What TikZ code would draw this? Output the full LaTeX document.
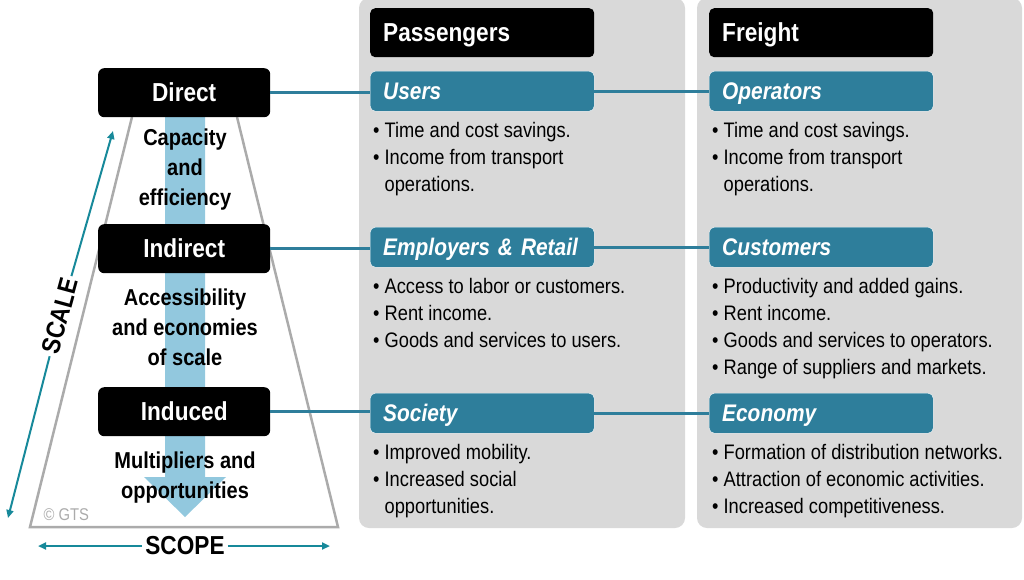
\documentclass[tikz,border=0pt]{standalone}
\usepackage{fontspec}
\setmainfont[FakeStretch=0.87]{Liberation Sans}
\usetikzlibrary{positioning,arrows.meta}

\definecolor{panelgray}{HTML}{D9D9D9}
\definecolor{boxteal}{HTML}{2E7E9B}
\definecolor{arrowteal}{HTML}{17899A}
\definecolor{barblue}{HTML}{92C8DE}
\definecolor{edgegray}{HTML}{ABABAB}

\newcommand{\bl}{\textbullet\ }
\newcommand{\cn}{\phantom{\textbullet\ }}

\tikzset{
  panel/.style={fill=panelgray, rounded corners=10pt},
  headbox/.style={fill=black, text=white, rounded corners=5pt, anchor=north west,
    minimum height=49pt, inner xsep=13pt, text width=198pt, align=left,
    text height=18.5pt, text depth=0pt,
    font=\bfseries\fontsize{26}{30}\selectfont},
  groupbox/.style={fill=boxteal, text=white, draw=white, thin, rounded corners=5pt, anchor=north west,
    minimum height=40pt, inner xsep=13pt, text width=198pt, align=left,
    text height=17pt, text depth=0pt,
    font=\bfseries\itshape\fontsize{24}{28}\selectfont},
  levelbox/.style={fill=black, text=white, rounded corners=6pt, anchor=north west,
    minimum width=172pt, minimum height=49pt, text height=18.5pt, text depth=0pt,
    font=\bfseries\fontsize{26}{30}\selectfont},
  itemlist/.style={anchor=north west, inner sep=0pt, align=left,
    font=\fontsize{21}{27}\selectfont},
  flowtext/.style={align=center, inner sep=0pt,
    font=\bfseries\fontsize{23}{30}\selectfont},
  measuretext/.style={inner sep=3pt, font=\bfseries\fontsize{26}{30}\selectfont},
  link/.style={boxteal, line width=3pt},
  measure/.style={arrowteal, line width=2pt, -{Triangle[length=8pt,width=7pt]}},
}

\begin{document}
\begin{tikzpicture}[x=1pt, y=-1pt]
\useasboundingbox (0,0) rectangle (1024,579);

% grey panels
\fill[panel] (359,-2) rectangle (685,528);
\fill[panel] (697,-2) rectangle (1022,528);

% trapezoid and flow bar
\draw[edgegray, line width=2.5pt, line join=miter] (132,117) -- (30,527) -- (338,527) -- (237,117);
\fill[barblue] (165,117) -- (205,117) -- (205,477) -- (226,477) -- (185,517)
  -- (144,477) -- (165,477) -- cycle;

\node[flowtext] (capacity) at (185,170) {Capacity\\and\\efficiency};
\node[flowtext] (access) at (185,327) {Accessibility\\and economies\\of scale};
\node[flowtext] (multi) at (185,478) {Multipliers and\\opportunities};

% levels
\node[levelbox] (direct) at (98,68) {Direct};
\node[levelbox] (indirect) at (98,224) {Indirect};
\node[levelbox] (induced) at (98,387) {Induced};

% headers
\node[headbox] (passengers) at (370,8) {Passengers};
\node[headbox] (freight) at (709,8) {Freight};

% groups
\node[groupbox] (users) at (370,71) {Users};
\node[groupbox] (employers) at (370,227) {Employers \& Retail};
\node[groupbox] (society) at (370,393) {Society};
\node[groupbox] (operators) at (709,71) {Operators};
\node[groupbox] (customers) at (709,227) {Customers};
\node[groupbox] (economy) at (709,393) {Economy};

% links
\draw[link] (direct.east) -- (direct.east -| users.west);
\draw[link] (indirect.east) -- (indirect.east -| employers.west);
\draw[link] (induced.east) -- (induced.east -| society.west);
\draw[link] (users) -- (operators);
\draw[link] (employers) -- (customers);
\draw[link] (society) -- (economy);

% benefits
\node[itemlist] (userlist) at (373,122) {\bl Time and cost savings.\\\bl Income from transport\\\cn operations.};
\node[itemlist] (emplist) at (373,278) {\bl Access to labor or customers.\\\bl Rent income.\\\bl Goods and services to users.};
\node[itemlist] (soclist) at (373,444) {\bl Improved mobility.\\\bl Increased social\\\cn opportunities.};
\node[itemlist] (oplist) at (712,122) {\bl Time and cost savings.\\\bl Income from transport\\\cn operations.};
\node[itemlist] (custlist) at (712,278) {\bl Productivity and added gains.\\\bl Rent income.\\\bl Goods and services to operators.\\\bl Range of suppliers and markets.};
\node[itemlist] (ecolist) at (712,444) {\bl Formation of distribution networks.\\\bl Attraction of economic activities.\\\bl Increased competitiveness.};

% scale and scope
\coordinate (scale-lo) at (8,518);
\coordinate (scale-hi) at (113,131);
\node[measuretext, rotate=74.8] (scalelbl) at (60,316) {SCALE};
\draw[measure] (scalelbl) -- (scale-hi);
\draw[measure] (scalelbl) -- (scale-lo);

\coordinate (scope-l) at (38,546);
\coordinate (scope-r) at (330,546);
\node[measuretext] (scopelbl) at (185,546) {SCOPE};
\draw[measure] (scopelbl) -- (scope-l);
\draw[measure] (scopelbl) -- (scope-r);

\node[anchor=west, text=edgegray, font=\fontsize{17}{20}\selectfont] (credit) at (40,515) {\textcopyright\ GTS};
\end{tikzpicture}
\end{document}
